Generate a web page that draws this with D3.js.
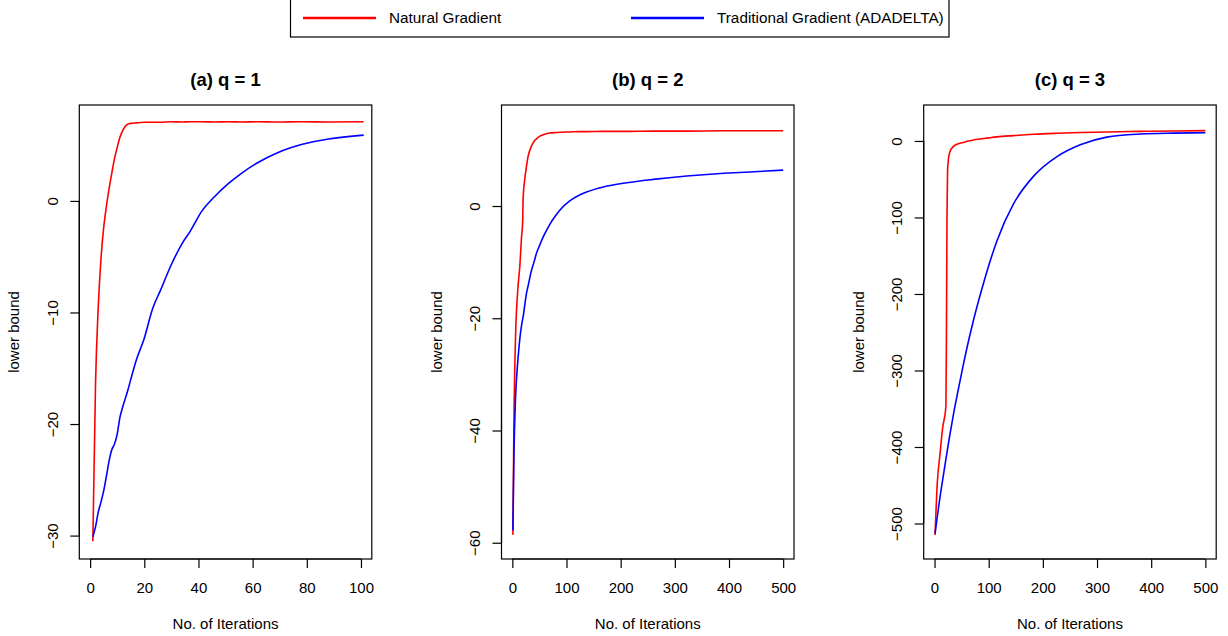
<!DOCTYPE html>
<html>
<head>
  <meta charset="utf-8">
  <title>Lower bound vs iterations</title>
  <script src="https://d3js.org/d3.v7.min.js"></script>
  <style>
    body { margin: 0; background: #fff; }
    svg text { font-family: "Liberation Sans", Arial, Helvetica, sans-serif; fill: #000; }
  </style>
</head>
<body>
  <script>
    // ---- data ----
    const seriesNames = ["Natural Gradient", "Traditional Gradient (ADADELTA)"];
    const seriesColors = ["#ff0000", "#0000ff"];
    const panelTitles = ["(a) q = 1", "(b) q = 2", "(c) q = 3"];

    // (a) q = 1
    const iterA = [1, 2, 3, 4, 5, 6, 7, 8, 9, 10, 11, 12, 13, 14, 15, 17, 20, 23, 26, 30, 34, 37, 41, 46, 51, 56, 62, 69, 78, 88, 101];
    const naturalA = [-30.5, -16.3, -9.5, -5.2, -2.4, -0.5, 1.1, 2.5, 3.8, 4.8, 5.7, 6.3, 6.7, 6.9, 6.95, 7.0, 7.05, 7.05, 7.05, 7.1, 7.08, 7.1, 7.1, 7.08, 7.1, 7.08, 7.1, 7.07, 7.1, 7.08, 7.1];
    const adadeltaA = [-30.1, -29.2, -27.9, -27.0, -26.0, -24.7, -23.3, -22.3, -21.8, -20.9, -19.4, -18.5, -17.7, -16.9, -16.0, -14.3, -12.3, -9.7, -8.0, -5.7, -3.8, -2.7, -1.0, 0.4, 1.55, 2.5, 3.45, 4.3, 5.05, 5.55, 5.9];

    // (b) q = 2
    const iterB = [1, 3, 6, 10, 14, 17, 19, 20, 23, 26, 29, 35, 40, 45, 50, 57, 69, 80, 88, 106, 125, 137, 168, 211, 260, 322, 384, 446, 500];
    const naturalB = [-58.6, -38, -23, -15, -10.5, -5.5, -3, 1.5, 4.8, 7.0, 8.8, 10.6, 11.5, 12.0, 12.4, 12.7, 13.0, 13.1, 13.15, 13.2, 13.25, 13.25, 13.3, 13.3, 13.35, 13.35, 13.4, 13.4, 13.4];
    const adadeltaB = [-57.8, -44, -34, -27.8, -23.5, -21.3, -20.2, -19.7, -17.6, -15.6, -14.3, -11.6, -10, -8.3, -7.1, -5.5, -3.3, -1.7, -0.7, 0.9, 2.0, 2.5, 3.4, 4.15, 4.75, 5.35, 5.8, 6.1, 6.4];

    // (c) q = 3
    const iterC = [1, 5, 10, 15, 21, 22, 23, 24, 26, 28, 35, 47, 53, 60, 72, 84, 100, 115, 146, 183, 226, 269, 318, 380, 442, 500];
    const naturalC = [-515, -448, -410, -375, -347, -250, -100, -40, -22, -15, -7, -3, -2, -0.5, 1.3, 2.5, 4, 5.3, 7.0, 8.7, 10, 11, 11.8, 12.5, 13, 13.5];
    const adadeltaC = [-513, -491.5, -466, -443, -416, -411.6, -407.2, -402.8, -394, -385.4, -357, -314, -293, -270, -234, -202, -163, -131, -82, -46, -20.5, -5, 5, 9, 10.2, 10.8];

    const xTicksA = [0, 20, 40, 60, 80, 100];
    const xTicksBC = [0, 100, 200, 300, 400, 500];
    const yTicksA = [-30, -20, -10, 0];
    const yTicksB = [-60, -40, -20, 0];
    const yTicksC = [-500, -400, -300, -200, -100, 0];

    const xDomainA = [-4, 104];
    const xDomainBC = [-20, 520];
    const yDomainA = [-32.1, 8.6];
    const yDomainB = [-62.9, 18.0];
    const yDomainC = [-546.4, 47];

    // ---- layout ----
    const W = 1228, H = 636;
    const plotTop = 105, plotBottom = 559;
    const firstLeft = 79.3, panelStep = 422.2, panelW = 292.5;
    const tickLen = 9;
    const fontSize = 15;

    const panels = [
      { title: panelTitles[0], iter: iterA, ys: [naturalA, adadeltaA], xDomain: xDomainA, yDomain: yDomainA, xTicks: xTicksA, yTicks: yTicksA },
      { title: panelTitles[1], iter: iterB, ys: [naturalB, adadeltaB], xDomain: xDomainBC, yDomain: yDomainB, xTicks: xTicksBC, yTicks: yTicksB },
      { title: panelTitles[2], iter: iterC, ys: [naturalC, adadeltaC], xDomain: xDomainBC, yDomain: yDomainC, xTicks: xTicksBC, yTicks: yTicksC }
    ];

    const svg = d3.select("body").append("svg")
      .attr("width", W)
      .attr("height", H);

    panels.forEach(function(p, i) {
      const left = firstLeft + i * panelStep;
      const x = d3.scaleLinear().domain(p.xDomain).range([left, left + panelW]);
      const y = d3.scaleLinear().domain(p.yDomain).range([plotBottom, plotTop]);
      const g = svg.append("g");

      // curves
      const line = d3.line()
        .x(function(d) { return x(d[0]); })
        .y(function(d) { return y(d[1]); })
        .curve(d3.curveMonotoneX);

      p.ys.forEach(function(vals, s) {
        g.append("path")
          .datum(p.iter.map(function(it, k) { return [it, vals[k]]; }))
          .attr("d", line)
          .attr("fill", "none")
          .attr("stroke", seriesColors[s])
          .attr("stroke-width", 1.6)
          .attr("stroke-linejoin", "round");
      });

      // box
      g.append("rect")
        .attr("x", left)
        .attr("y", plotTop)
        .attr("width", panelW)
        .attr("height", plotBottom - plotTop)
        .attr("fill", "none")
        .attr("stroke", "#000")
        .attr("stroke-width", 1.2);

      // x axis
      const xa = g.append("g")
        .attr("transform", "translate(0," + plotBottom + ")")
        .call(d3.axisBottom(x).tickValues(p.xTicks).tickSize(tickLen).tickSizeOuter(0).tickFormat(d3.format("d")));
      xa.select(".domain").attr("d", "M" + x(p.xTicks[0]) + ",0H" + x(p.xTicks[p.xTicks.length - 1]));
      xa.selectAll("line").attr("stroke-width", 1.2);
      xa.selectAll("path").attr("stroke-width", 1.2);
      xa.selectAll("text")
        .attr("y", 34.4)
        .attr("dy", 0)
        .style("font-size", fontSize + "px")
        .style("font-family", null);

      // y axis
      const ya = g.append("g")
        .attr("transform", "translate(" + left + ",0)")
        .call(d3.axisLeft(y).tickValues(p.yTicks).tickSize(tickLen).tickSizeOuter(0));
      ya.select(".domain").attr("d", "M0," + y(p.yTicks[0]) + "V" + y(p.yTicks[p.yTicks.length - 1]));
      ya.selectAll("line").attr("stroke-width", 1.2);
      ya.selectAll("path").attr("stroke-width", 1.2);
      ya.selectAll("text")
        .attr("transform", "rotate(-90)")
        .attr("x", 0)
        .attr("y", -21.6)
        .attr("dy", 0)
        .attr("text-anchor", "middle")
        .style("font-size", fontSize + "px")
        .style("font-family", null);

      // labels
      g.append("text")
        .attr("x", left + panelW / 2)
        .attr("y", 86)
        .attr("text-anchor", "middle")
        .style("font-size", "18.5px")
        .style("font-weight", "bold")
        .text(p.title);

      g.append("text")
        .attr("x", left + panelW / 2)
        .attr("y", 629)
        .attr("text-anchor", "middle")
        .style("font-size", fontSize + "px")
        .text("No. of Iterations");

      g.append("text")
        .attr("transform", "translate(" + (left - 60) + "," + ((plotTop + plotBottom) / 2) + ") rotate(-90)")
        .attr("text-anchor", "middle")
        .style("font-size", fontSize + "px")
        .text("lower bound");
    });

    // legend
    const legend = svg.append("g");
    legend.append("rect")
      .attr("x", 290.5)
      .attr("y", -2)
      .attr("width", 658.5)
      .attr("height", 39)
      .attr("fill", "none")
      .attr("stroke", "#000")
      .attr("stroke-width", 1.2);

    const legendX = [303, 631];
    seriesNames.forEach(function(name, s) {
      legend.append("line")
        .attr("x1", legendX[s])
        .attr("x2", legendX[s] + 73)
        .attr("y1", 18)
        .attr("y2", 18)
        .attr("stroke", seriesColors[s])
        .attr("stroke-width", 2.6);
      legend.append("text")
        .attr("x", legendX[s] + 86)
        .attr("y", 23.3)
        .style("font-size", "15.3px")
        .text(name);
    });
  </script>
</body>
</html>
